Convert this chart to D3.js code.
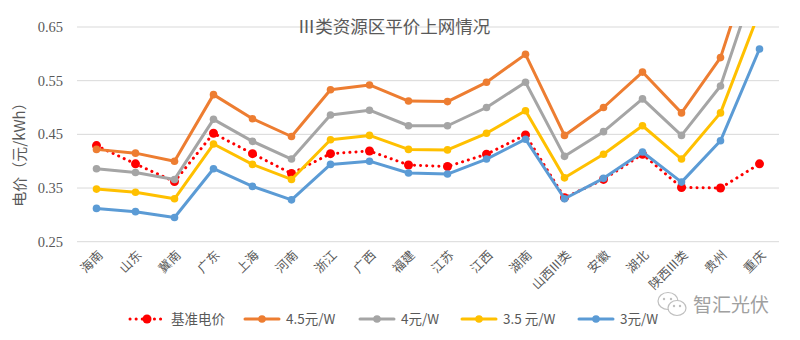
<!DOCTYPE html>
<html>
<head>
<meta charset="utf-8">
<script src="https://cdn.jsdelivr.net/npm/d3@7"></script>
<style>
  body { margin: 0; background: #fff; }
  svg { display: block; }
</style>
</head>
<body>
<div id="vis-container"></div>
<script>
const width = 800;
const height = 340;
const margin = { top: 27, right: 21, bottom: 98, left: 77 };

// categories and series (元/kWh)
const provinces = ["海南", "山东", "冀南", "广东", "上海", "河南", "浙江", "广西", "福建", "江苏",
                   "江西", "湖南", "山西III类", "安徽", "湖北", "陕西III类", "贵州", "重庆"];
const basePrice = [0.429, 0.395, 0.362, 0.452, 0.414, 0.377, 0.414, 0.419, 0.393, 0.390,
                   0.413, 0.449, 0.332, 0.366, 0.413, 0.351, 0.350, 0.395];
const cost45 = [0.422, 0.415, 0.400, 0.524, 0.479, 0.446, 0.533, 0.542, 0.512, 0.511,
                0.547, 0.599, 0.448, 0.500, 0.566, 0.490, 0.593, 0.816];
const cost40 = [0.386, 0.379, 0.366, 0.478, 0.437, 0.404, 0.486, 0.495, 0.466, 0.466,
                0.500, 0.547, 0.409, 0.455, 0.516, 0.448, 0.540, 0.756];
const cost35 = [0.348, 0.342, 0.330, 0.432, 0.394, 0.366, 0.440, 0.448, 0.422, 0.421,
                0.452, 0.494, 0.369, 0.413, 0.466, 0.404, 0.490, 0.679];
const cost30 = [0.312, 0.306, 0.295, 0.386, 0.353, 0.328, 0.394, 0.400, 0.378, 0.376,
                0.404, 0.441, 0.330, 0.368, 0.417, 0.361, 0.438, 0.609];
const yTicks = [0.25, 0.35, 0.45, 0.55, 0.65];

const series = [
  { name: "基准电价", values: basePrice, color: "#ff0000", dotted: true },
  { name: "4.5元/W", values: cost45, color: "#ed7d31" },
  { name: "4元/W", values: cost40, color: "#a5a5a5" },
  { name: "3.5 元/W", values: cost35, color: "#ffc000" },
  { name: "3元/W", values: cost30, color: "#5b9bd5" }
];

const cjk = "'Noto Sans CJK SC', 'Noto Sans', sans-serif";
const textColor = "#595959";

const svg = d3.select("#vis-container")
  .append("svg")
  .attr("width", width)
  .attr("height", height);

const x = d3.scaleBand()
  .domain(provinces)
  .range([margin.left, width - margin.right]);

const y = d3.scaleLinear()
  .domain([0.25, 0.65])
  .range([height - margin.bottom - 0.3, margin.top]);

// clip so lines leaving the top are cut off
svg.append("clipPath").attr("id", "plot-clip")
  .append("rect")
  .attr("x", margin.left)
  .attr("y", margin.top - 1)
  .attr("width", width - margin.left - margin.right)
  .attr("height", height - margin.top - margin.bottom + 2);

// gridlines
svg.append("g")
  .selectAll("line")
  .data(yTicks)
  .join("line")
  .attr("x1", margin.left)
  .attr("x2", width - margin.right)
  .attr("y1", d => y(d))
  .attr("y2", d => y(d))
  .attr("stroke", "#d9d9d9")
  .attr("stroke-width", 1);

// y axis labels
const yAxis = svg.append("g")
  .attr("transform", `translate(${margin.left}, 0)`)
  .call(d3.axisLeft(y).tickValues(yTicks).tickFormat(d3.format(".2f")).tickSize(0).tickPadding(14));
yAxis.select(".domain").remove();
yAxis.attr("font-family", null);
yAxis.selectAll("text")
  .style("font-family", "'Liberation Serif', 'DejaVu Serif', serif")
  .style("font-size", "14.5px")
  .attr("fill", textColor);

// x axis labels, rotated
const xAxis = svg.append("g")
  .attr("transform", `translate(0, ${height - margin.bottom})`)
  .call(d3.axisBottom(x).tickSize(0));
xAxis.select(".domain").remove();
xAxis.selectAll("text")
  .style("font-family", cjk)
  .style("font-size", "12.5px")
  .attr("fill", textColor)
  .attr("text-anchor", "end")
  .attr("dy", null)
  .attr("y", 0)
  .attr("transform", "translate(7, 14) rotate(-45)");

// title
svg.append("text")
  .attr("x", 394)
  .attr("y", 33)
  .attr("text-anchor", "middle")
  .style("font-family", cjk)
  .style("font-size", "17.5px")
  .attr("fill", textColor)
  .text("Ⅲ类资源区平价上网情况");

// y axis title
svg.append("text")
  .attr("transform", "translate(25, 151) rotate(-90)")
  .attr("text-anchor", "middle")
  .style("font-family", cjk)
  .style("font-size", "15px")
  .attr("fill", textColor)
  .text("电价（元/kWh）");

// lines and markers
const cx = (d, i) => x(provinces[i]) + x.bandwidth() / 2;
const line = d3.line().x(cx).y(d => y(d));
const plot = svg.append("g").attr("clip-path", "url(#plot-clip)");

series.forEach(s => {
  const g = plot.append("g");
  g.append("path")
    .datum(s.values)
    .attr("fill", "none")
    .attr("stroke", s.color)
    .attr("stroke-width", 3)
    .attr("stroke-linecap", "round")
    .attr("stroke-linejoin", "round")
    .attr("stroke-dasharray", s.dotted ? "0.1 6" : null)
    .attr("d", line);
  g.selectAll("circle")
    .data(s.values)
    .join("circle")
    .attr("cx", cx)
    .attr("cy", d => y(d))
    .attr("r", s.dotted ? 4.5 : 3.8)
    .attr("fill", s.color);
});

// legend
const legendX = [128, 243, 358, 460, 577];
const legend = svg.append("g").attr("transform", "translate(0, 319)");
series.forEach((s, i) => {
  const lg = legend.append("g").attr("transform", `translate(${legendX[i]}, 0)`);
  lg.append("line")
    .attr("x1", 2).attr("x2", 36)
    .attr("stroke", s.color)
    .attr("stroke-width", 3)
    .attr("stroke-linecap", "round")
    .attr("stroke-dasharray", s.dotted ? "0.1 6" : null);
  lg.append("circle")
    .attr("cx", 19)
    .attr("r", s.dotted ? 4.5 : 3.8)
    .attr("fill", s.color);
  lg.append("text")
    .attr("x", 43)
    .attr("y", 5)
    .style("font-family", cjk)
    .style("font-size", "13.5px")
    .attr("fill", textColor)
    .text(s.name);
});

// watermark
const wm = svg.append("g").attr("transform", "translate(660, 305)").attr("opacity", 0.75);
wm.append("ellipse").attr("cx", 8).attr("cy", -4).attr("rx", 10).attr("ry", 8.5)
  .attr("fill", "#fff").attr("stroke", "#aaa").attr("stroke-width", 1.2);
wm.append("ellipse").attr("cx", 17).attr("cy", 3).attr("rx", 9).attr("ry", 7.5)
  .attr("fill", "#fff").attr("stroke", "#aaa").attr("stroke-width", 1.2);
[[4, -6], [11, -6], [14, 1], [20, 1]].forEach(p => {
  wm.append("circle").attr("cx", p[0]).attr("cy", p[1]).attr("r", 1.2).attr("fill", "#aaa");
});
svg.append("text")
  .attr("x", 693)
  .attr("y", 312)
  .style("font-family", cjk)
  .style("font-size", "19px")
  .attr("fill", "#a0a0a0")
  .text("智汇光伏");
</script>
</body>
</html>
